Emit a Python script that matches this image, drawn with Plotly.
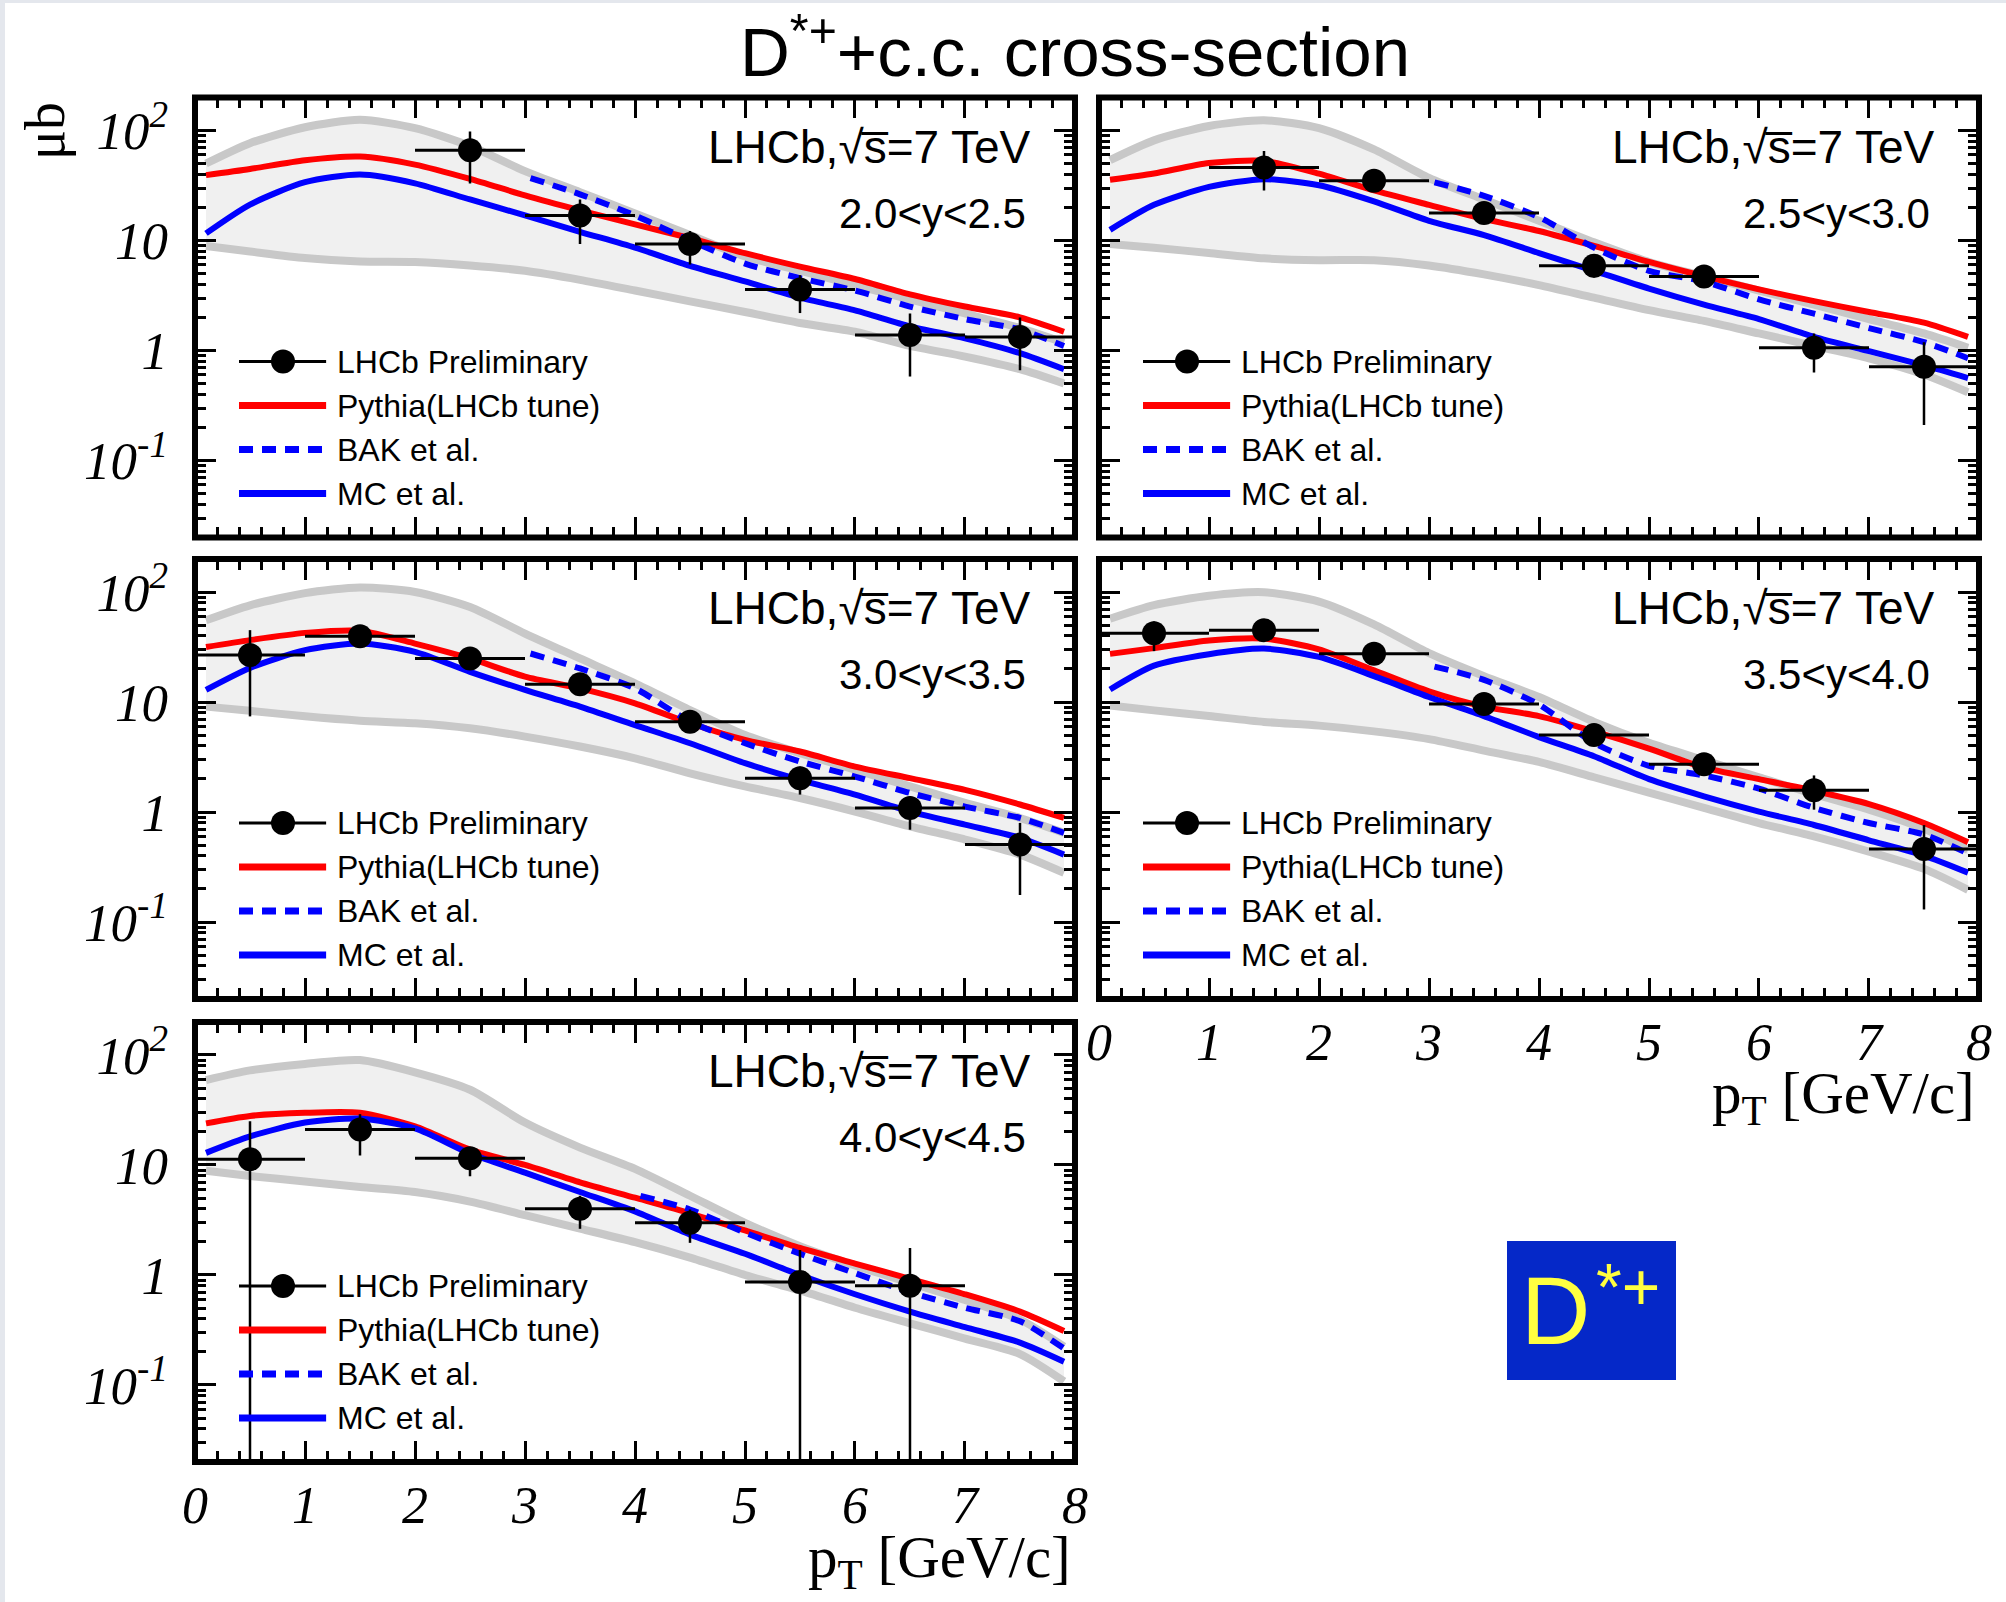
import plotly.graph_objects as go

# ---------------- data ----------------
PT = [0.1, 0.5, 1.0, 1.5, 2.0, 2.5, 3.0, 3.5, 4.0, 4.5, 5.0, 5.5, 6.0, 6.5, 7.0, 7.5, 7.9]
BAK_PT = [3.05, 3.5, 4.0, 4.5, 5.0, 5.5, 6.0, 6.5, 7.0, 7.5, 7.9]
BAK_PT_Y5 = [4.05, 4.5, 5.0, 5.5, 6.0, 6.5, 7.0, 7.5, 7.9]
BIN_HALF_WIDTH = 0.5
X_TICKS = [0, 1, 2, 3, 4, 5, 6, 7, 8]
Y_TICKS = [0.1, 1, 10, 100]
Y_TICKTEXT = ["10<sup>-1</sup>", "1", "10", "10<sup>2</sup>"]
RAPIDITY_LABELS = ["2.0&lt;y&lt;2.5", "2.5&lt;y&lt;3.0", "3.0&lt;y&lt;3.5", "3.5&lt;y&lt;4.0", "4.0&lt;y&lt;4.5"]
LEGEND_NAMES = ["LHCb Preliminary", "Pythia(LHCb tune)", "BAK et al.", "MC et al."]

# panel 1 : 2.0<y<2.5
y1_x = [2.5, 3.5, 4.5, 5.5, 6.5, 7.5]
y1_sigma = [66, 16.9, 9.3, 3.59, 1.38, 1.33]
y1_err_up = [32, 6.7, 2.9, 1.25, 0.79, 0.67]
y1_err_dn = [33, 7.6, 3.25, 1.4, 0.8, 0.67]
y1_pythia = [39.3, 44.7, 53.7, 58.0, 49.0, 36.3, 25.7, 18.8, 14.0, 10.5, 7.67, 5.79, 4.47, 3.24, 2.51, 2.00, 1.48]
y1_mc = [11.6, 21.2, 33.9, 39.8, 33.1, 23.6, 16.9, 12.0, 8.61, 5.89, 4.24, 3.02, 2.32, 1.66, 1.29, 0.946, 0.676]
y1_bak = [36.9, 26.3, 16.9, 10.0, 6.17, 4.55, 3.51, 2.51, 1.93, 1.55, 1.10]
y1_band_hi = [50.1, 76.7, 107, 125, 105, 72.4, 42.7, 27.5, 17.6, 11.2, 7.16, 5.33, 3.93, 2.91, 2.17, 1.60, 1.18]
y1_band_lo = [8.91, 7.94, 6.92, 6.46, 6.38, 5.93, 5.30, 4.39, 3.51, 2.80, 2.24, 1.78, 1.48, 1.10, 0.881, 0.676, 0.501]

# panel 2 : 2.5<y<3.0
y2_x = [1.5, 2.5, 3.5, 4.5, 5.5, 6.5, 7.5]
y2_sigma = [46, 35, 17.8, 5.9, 4.7, 1.06, 0.71]
y2_err_up = [19, 3, 2, 1.2, 1.2, 0.37, 0.48]
y2_err_dn = [17.5, 3, 2, 1.3, 0.9, 0.43, 0.50]
y2_pythia = [35.6, 40.7, 50.7, 53.0, 40.5, 28.5, 21.1, 15.7, 12.2, 8.93, 6.38, 4.73, 3.59, 2.81, 2.24, 1.79, 1.33]
y2_mc = [12.5, 21.1, 30.7, 36.1, 31.8, 22.7, 15.1, 11.2, 7.69, 5.30, 3.65, 2.61, 1.93, 1.33, 0.986, 0.731, 0.562]
y2_bak = [33.8, 25.5, 16.3, 8.61, 5.30, 4.24, 2.91, 2.16, 1.60, 1.19, 0.851]
y2_band_hi = [53.7, 81.3, 110, 124, 105, 67.3, 37.0, 23.6, 15.1, 9.64, 6.38, 4.73, 3.51, 2.61, 1.93, 1.43, 1.06]
y2_band_lo = [9.29, 8.61, 7.69, 6.89, 6.62, 6.62, 5.93, 4.92, 3.93, 3.02, 2.33, 1.86, 1.43, 1.10, 0.849, 0.605, 0.417]

# panel 3 : 3.0<y<3.5
y3_x = [0.5, 1.5, 2.5, 3.5, 4.5, 5.5, 6.5, 7.5]
y3_sigma = [26.7, 39.6, 24.9, 14.5, 6.6, 2.03, 1.09, 0.506]
y3_err_up = [18.3, 4, 3, 2.5, 1.3, 0.56, 0.30, 0.29]
y3_err_dn = [19.3, 4, 3, 2.5, 1.3, 0.59, 0.40, 0.33]
y3_pythia = [31.6, 36.5, 42.5, 44.4, 34.0, 24.9, 17.0, 13.3, 9.73, 6.41, 4.53, 3.55, 2.59, 2.03, 1.59, 1.17, 0.883]
y3_mc = [12.9, 20.4, 29.6, 34.0, 28.6, 18.8, 12.9, 9.08, 6.17, 4.22, 2.78, 1.96, 1.44, 1.01, 0.767, 0.581, 0.41]
y3_bak = [27.6, 20.2, 13.3, 6.64, 4.22, 2.88, 2.10, 1.49, 1.12, 0.883, 0.646]
y3_band_hi = [55.3, 75.7, 97.7, 110, 100, 73.1, 41.9, 24.9, 14.8, 8.45, 5.01, 3.43, 2.42, 1.71, 1.21, 0.883, 0.646]
y3_band_lo = [9.08, 8.32, 7.41, 6.76, 6.41, 5.77, 4.85, 3.94, 3.08, 2.25, 1.71, 1.34, 1.01, 0.741, 0.562, 0.41, 0.28]

# panel 4 : 3.5<y<4.0
y4_x = [0.5, 1.5, 2.5, 3.5, 4.5, 5.5, 6.5, 7.5]
y4_sigma = [42.2, 45, 27.4, 9.6, 5.0, 2.72, 1.58, 0.46]
y4_err_up = [11.9, 3, 2, 1, 0.8, 0.5, 0.57, 0.30]
y4_err_dn = [13.2, 3, 2, 1, 0.8, 0.45, 0.53, 0.33]
y4_pythia = [27.4, 30.9, 36.2, 37.7, 30.1, 19.4, 12.5, 9.08, 7.45, 5.41, 3.77, 2.53, 1.99, 1.56, 1.18, 0.794, 0.532]
y4_mc = [13.0, 21.4, 27.2, 30.6, 25.7, 17.2, 11.1, 7.45, 4.80, 3.21, 1.99, 1.39, 1.01, 0.762, 0.553, 0.402, 0.281]
y4_bak = [21.0, 15.9, 9.46, 4.25, 2.63, 2.15, 1.63, 1.09, 0.794, 0.624, 0.419]
y4_band_hi = [57.1, 75.9, 92.3, 99.5, 81.8, 50.7, 27.8, 17.2, 11.1, 6.59, 4.25, 2.96, 2.07, 1.45, 1.05, 0.703, 0.453]
y4_band_lo = [9.31, 8.39, 7.45, 6.59, 6.10, 5.41, 4.60, 3.62, 2.85, 2.07, 1.50, 1.09, 0.794, 0.60, 0.436, 0.304, 0.196]

# panel 5 : 4.0<y<4.5
y5_x = [0.5, 1.5, 2.5, 3.5, 4.5, 5.5, 6.5]
y5_sigma = [11.3, 21, 11.5, 4.0, 2.98, 0.865, 0.80]
y5_err_up = [13.7, 8, 2.9, 1.25, 0.96, 0.825, 0.96]
y5_err_dn = [11.295, 8.8, 3.6, 1.37, 1.02, 0.862, 0.797]
y5_pythia = [23.9, 27.9, 29.8, 29.8, 22.4, 13.8, 10.0, 6.95, 5.04, 3.64, 2.54, 1.76, 1.27, 0.923, 0.668, 0.465, 0.31]
y5_mc = [12.9, 18.2, 24.3, 26.4, 21.5, 12.7, 8.51, 5.68, 3.79, 2.33, 1.56, 1.0, 0.668, 0.465, 0.336, 0.243, 0.163]
y5_bak = [5.24, 3.94, 2.43, 1.56, 1.04, 0.695, 0.504, 0.379, 0.215]
y5_band_hi = [59.2, 72.4, 83.0, 89.9, 69.5, 48.3, 24.3, 14.4, 9.23, 5.25, 2.98, 1.83, 1.22, 0.851, 0.592, 0.394, 0.224]
y5_band_lo = [8.85, 7.94, 7.08, 6.31, 5.68, 4.65, 3.50, 2.64, 1.99, 1.44, 1.0, 0.724, 0.504, 0.364, 0.264, 0.191, 0.108]

# ---------------- layout constants ----------------
W, H = 2006, 1602
COLS = {1: (0.09721, 0.53589), 2: (0.54786, 0.98654)}
ROWS = {1: (0.66448, 0.93914), 2: (0.37640, 0.65106), 3: (0.08739, 0.36205)}
SANS = "Liberation Sans, Arial, Helvetica, sans-serif"
SERIF = "Liberation Serif, Times New Roman, serif"
RED = "#ff0000"
BLUE = "#0000ff"
BAND_LINE = "#c8c8c8"
BAND_FILL = "#f0f0f0"

panels = [
    dict(col=1, row=1, x=y1_x, s=y1_sigma, eu=y1_err_up, ed=y1_err_dn, py=y1_pythia, mc=y1_mc,
         bx=BAK_PT, bak=y1_bak, hi=y1_band_hi, lo=y1_band_lo, xl=False, yl=True),
    dict(col=2, row=1, x=y2_x, s=y2_sigma, eu=y2_err_up, ed=y2_err_dn, py=y2_pythia, mc=y2_mc,
         bx=BAK_PT, bak=y2_bak, hi=y2_band_hi, lo=y2_band_lo, xl=False, yl=False),
    dict(col=1, row=2, x=y3_x, s=y3_sigma, eu=y3_err_up, ed=y3_err_dn, py=y3_pythia, mc=y3_mc,
         bx=BAK_PT, bak=y3_bak, hi=y3_band_hi, lo=y3_band_lo, xl=False, yl=True),
    dict(col=2, row=2, x=y4_x, s=y4_sigma, eu=y4_err_up, ed=y4_err_dn, py=y4_pythia, mc=y4_mc,
         bx=BAK_PT, bak=y4_bak, hi=y4_band_hi, lo=y4_band_lo, xl=True, yl=False),
    dict(col=1, row=3, x=y5_x, s=y5_sigma, eu=y5_err_up, ed=y5_err_dn, py=y5_pythia, mc=y5_mc,
         bx=BAK_PT_Y5, bak=y5_bak, hi=y5_band_hi, lo=y5_band_lo, xl=True, yl=True),
]

fig = go.Figure()
shapes = []
annotations = []
layout_axes = {}

for i, p in enumerate(panels):
    n = i + 1
    xa = "x" if n == 1 else f"x{n}"
    ya = "y" if n == 1 else f"y{n}"
    common = dict(xaxis=xa, yaxis=ya, showlegend=False, hoverinfo="skip")
    line_kw = dict(shape="spline", smoothing=0.7)

    # theory band
    fig.add_trace(go.Scatter(x=PT + PT[::-1], y=p["hi"] + p["lo"][::-1], mode="lines",
                             fill="toself", fillcolor=BAND_FILL, line=dict(width=0), **common))
    fig.add_trace(go.Scatter(x=PT, y=p["hi"], mode="lines",
                             line=dict(color=BAND_LINE, width=8, **line_kw), **common))
    fig.add_trace(go.Scatter(x=PT, y=p["lo"], mode="lines",
                             line=dict(color=BAND_LINE, width=8, **line_kw), **common))
    # predictions
    fig.add_trace(go.Scatter(x=PT, y=p["py"], mode="lines",
                             line=dict(color=RED, width=6, **line_kw), **common))
    fig.add_trace(go.Scatter(x=PT, y=p["mc"], mode="lines",
                             line=dict(color=BLUE, width=6, **line_kw), **common))
    fig.add_trace(go.Scatter(x=p["bx"], y=p["bak"], mode="lines",
                             line=dict(color=BLUE, width=6, dash="14px,9px", **line_kw), **common))
    # data
    fig.add_trace(go.Scatter(
        x=p["x"], y=p["s"], mode="markers",
        marker=dict(color="black", size=24, symbol="circle"),
        error_x=dict(type="constant", value=BIN_HALF_WIDTH, thickness=3, width=0, color="black"),
        error_y=dict(type="data", array=p["eu"], arrayminus=p["ed"], thickness=2.5, width=0, color="black"),
        **common))

    xd = COLS[p["col"]]
    yd = ROWS[p["row"]]
    xkey = "xaxis" if n == 1 else f"xaxis{n}"
    ykey = "yaxis" if n == 1 else f"yaxis{n}"
    layout_axes[xkey] = dict(
        domain=list(xd), anchor=ya, range=[0, 8], showline=False, showgrid=False, zeroline=False,
        automargin=False,
        ticks="inside", ticklen=21, tickwidth=3, tickcolor="black", mirror="allticks",
        tickmode="array", tickvals=X_TICKS, ticktext=[str(v) for v in X_TICKS],
        showticklabels=p["xl"], ticklabelstandoff=8,
        tickfont=dict(family=SERIF, size=52, color="black", style="italic"),
        minor=dict(ticks="inside", tickmode="linear", tick0=0, dtick=0.2, ticklen=11,
                   tickwidth=3, tickcolor="black"),
    )
    layout_axes[ykey] = dict(
        domain=list(yd), anchor=xa, type="log", range=[-1.7, 2.3], showline=False,
        showgrid=False, zeroline=False, automargin=False,
        ticks="inside", ticklen=21, tickwidth=3, tickcolor="black", mirror="allticks",
        tickmode="array", tickvals=Y_TICKS, ticktext=Y_TICKTEXT,
        showticklabels=p["yl"], ticklabelstandoff=26,
        tickfont=dict(family=SERIF, size=53, color="black", style="italic"),
        minor=dict(ticks="inside", dtick="D1", ticklen=11, tickwidth=3, tickcolor="black"),
    )

    xr = f"{xa} domain"
    yr = f"{ya} domain"
    # frame
    shapes.append(dict(type="rect", xref=xr, yref=yr, x0=0, x1=1, y0=0, y1=1,
                       line=dict(color="black", width=6), layer="above"))
    # legend samples
    leg_y = [0.4, 0.3, 0.2, 0.1]
    shapes.append(dict(type="line", xref=xr, yref=yr, x0=0.05, x1=0.149, y0=leg_y[0], y1=leg_y[0],
                       line=dict(color="black", width=3)))
    shapes.append(dict(type="circle", xref=xr, yref=yr, xsizemode="pixel", ysizemode="pixel",
                       xanchor=0.1, yanchor=leg_y[0], x0=-12, x1=12, y0=-12, y1=12,
                       fillcolor="black", line=dict(color="black", width=0)))
    shapes.append(dict(type="line", xref=xr, yref=yr, x0=0.05, x1=0.149, y0=leg_y[1], y1=leg_y[1],
                       line=dict(color=RED, width=7)))
    shapes.append(dict(type="line", xref=xr, yref=yr, x0=0.05, x1=0.149, y0=leg_y[2], y1=leg_y[2],
                       line=dict(color=BLUE, width=7, dash="14px,9px")))
    shapes.append(dict(type="line", xref=xr, yref=yr, x0=0.05, x1=0.149, y0=leg_y[3], y1=leg_y[3],
                       line=dict(color=BLUE, width=7)))
    for yy, name in zip(leg_y, LEGEND_NAMES):
        annotations.append(dict(xref=xr, yref=yr, x=0.159, y=yy, text=name, showarrow=False,
                                xanchor="left", yanchor="middle",
                                font=dict(family=SANS, size=32, color="black")))
    annotations.append(dict(xref=xr, yref=yr, x=0.9523, y=0.8886, text="LHCb,\u221as\u0305=7 TeV",
                            showarrow=False, xanchor="right", yanchor="middle",
                            font=dict(family=SANS, size=46, color="black")))
    annotations.append(dict(xref=xr, yref=yr, x=0.9466, y=0.7364, text=RAPIDITY_LABELS[i],
                            showarrow=False, xanchor="right", yanchor="middle",
                            font=dict(family=SANS, size=42, color="black")))

# global title
annotations.append(dict(xref="paper", yref="paper", x=1075 / W, y=1 - 47 / H,
                        text="D<sup>*+</sup>+c.c. cross-section", showarrow=False,
                        xanchor="center", yanchor="middle",
                        font=dict(family=SANS, size=69, color="black")))
# y-axis unit
annotations.append(dict(xref="paper", yref="paper", x=45 / W, y=1 - 131 / H, text="\u03bcb",
                        showarrow=False, textangle=-90, xanchor="center", yanchor="middle",
                        font=dict(family=SERIF, size=56, color="black")))
# x-axis titles
annotations.append(dict(xref="x4 domain", yref="paper", x=0.998, y=1 - 1097 / H,
                        text="p<sub>T</sub> [GeV/c]", showarrow=False, xanchor="right",
                        yanchor="middle", font=dict(family=SERIF, size=59, color="black")))
annotations.append(dict(xref="x5 domain", yref="paper", x=0.998, y=1 - 1561 / H,
                        text="p<sub>T</sub> [GeV/c]", showarrow=False, xanchor="right",
                        yanchor="middle", font=dict(family=SERIF, size=59, color="black")))
# D*+ badge
shapes.append(dict(type="rect", xref="paper", yref="paper", x0=1507 / W, x1=1676 / W,
                   y0=1 - 1380 / H, y1=1 - 1241 / H, fillcolor="#0528c8", line=dict(width=0)))
annotations.append(dict(xref="paper", yref="paper", x=1519 / W, y=1 - 1310 / H,
                        text="D", showarrow=False, xanchor="left", yanchor="middle",
                        font=dict(family=SANS, size=96, color="#ffff40")))
annotations.append(dict(xref="paper", yref="paper", x=1594 / W, y=1 - 1287 / H,
                        text="*+", showarrow=False, xanchor="left", yanchor="middle",
                        font=dict(family=SANS, size=66, color="#ffff40")))
# thin page border (left/top) as in the reference screenshot
shapes.append(dict(type="rect", xref="paper", yref="paper", x0=0, x1=5 / W, y0=0, y1=1,
                   fillcolor="#e4e7ed", line=dict(width=0), layer="below"))
shapes.append(dict(type="rect", xref="paper", yref="paper", x0=0, x1=1, y0=1 - 3 / H, y1=1,
                   fillcolor="#e4e7ed", line=dict(width=0), layer="below"))

fig.update_layout(
    template="none",
    width=W, height=H, autosize=False, margin=dict(l=0, r=0, t=0, b=0, pad=0),
    paper_bgcolor="white", plot_bgcolor="rgba(0,0,0,0)",
    shapes=shapes, annotations=annotations, showlegend=False,
    **layout_axes,
)

fig.write_html(
    "out.html",
    config=dict(displayModeBar=False),
    post_script="document.body.style.margin='0';document.body.style.padding='0';"
                "document.body.style.overflow='hidden';",
)
